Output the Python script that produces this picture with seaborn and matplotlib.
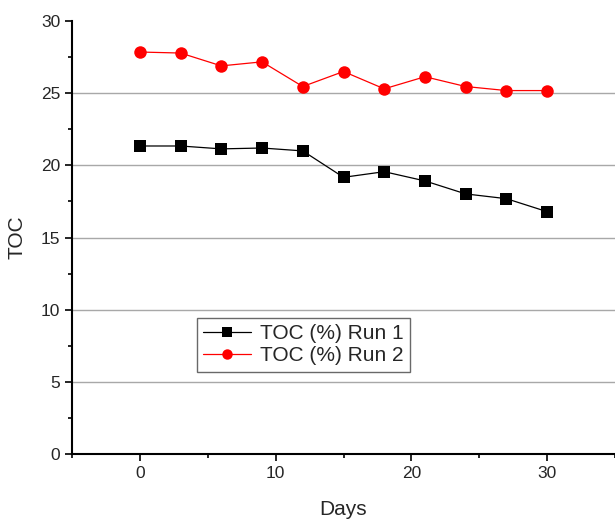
import matplotlib
matplotlib.use("Agg")
import matplotlib.pyplot as plt
import seaborn as sns
import pandas as pd
from matplotlib.ticker import MultipleLocator

days = [0, 3, 6, 9, 12, 15, 18, 21, 24, 27, 30]
run1 = [21.34, 21.34, 21.14, 21.2, 21.0, 19.17, 19.56, 18.92, 18.02, 17.69, 16.79]
run2 = [27.85, 27.78, 26.89, 27.17, 25.46, 26.5, 25.3, 26.14, 25.46, 25.18, 25.18]
labels = ["TOC (%) Run 1", "TOC (%) Run 2"]

df = pd.DataFrame({
    "Days": days * 2,
    "TOC": run1 + run2,
    "series": [labels[0]] * len(days) + [labels[1]] * len(days),
})

sns.set_style("ticks")
plt.rcParams["font.family"] = ["Liberation Sans", "DejaVu Sans"]

fig = plt.figure(figsize=(6.15, 5.22), dpi=100)
ax = fig.add_axes([72 / 615, 1 - 454 / 522, 543 / 615, 433 / 522])

for gy in [5, 10, 15, 20, 25]:
    ax.axhline(gy, color="#a8a8a8", lw=1.0, zorder=0)

sns.lineplot(data=df, x="Days", y="TOC", hue="series", style="series",
             palette={labels[0]: "black", labels[1]: "red"},
             markers={labels[0]: "s", labels[1]: "o"}, dashes=False,
             markersize=9, linewidth=0.9, markeredgewidth=0, ax=ax)

ax.set_xlim(-5, 35)
ax.set_ylim(0, 30)
ax.xaxis.set_major_locator(MultipleLocator(10))
ax.xaxis.set_minor_locator(MultipleLocator(5))
ax.yaxis.set_major_locator(MultipleLocator(5))
ax.yaxis.set_minor_locator(MultipleLocator(2.5))
ax.tick_params(which="major", direction="out", length=5, width=1.2, labelsize=12.5, color="black")
ax.tick_params(which="minor", direction="out", length=3, width=1.2, color="black")
for s in ["top", "right"]:
    ax.spines[s].set_visible(False)
for s in ["left", "bottom"]:
    ax.spines[s].set_linewidth(1.5)
    ax.spines[s].set_color("black")
ax.set_xlabel("Days", fontsize=15, labelpad=14)
ax.set_ylabel("TOC", fontsize=15, labelpad=10)

leg = ax.legend(loc="lower left", bbox_to_anchor=(0.23, 0.19), fontsize=15,
                frameon=True, fancybox=False, edgecolor="#444444",
                borderaxespad=0, handlelength=2.3, borderpad=0.3,
                labelspacing=0.15, handletextpad=0.45)
leg.get_frame().set_linewidth(1.0)
for h in leg.legend_handles:
    h.set_markersize(7.5)

fig.savefig("out.png", dpi=100)
